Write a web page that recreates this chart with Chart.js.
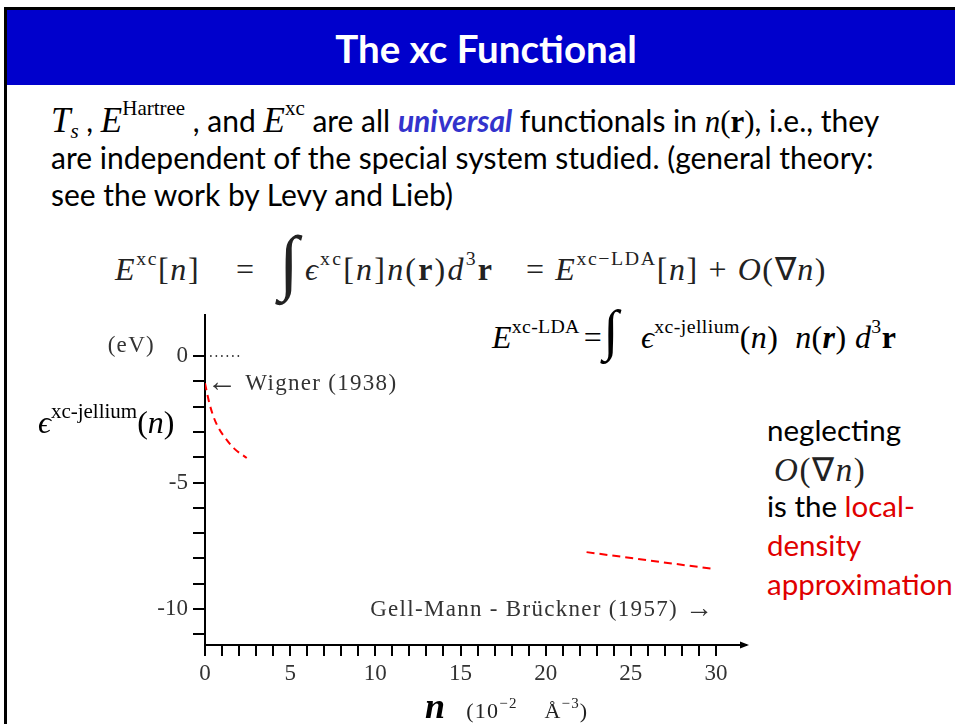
<!DOCTYPE html>
<html>
<head>
<meta charset="utf-8">
<title>The xc Functional</title>
<script src="https://cdn.jsdelivr.net/npm/chart.js@4.4.1/dist/chart.umd.min.js"></script>
<style>
  html, body { margin: 0; padding: 0; background: #fff; }
  #slide { position: relative; width: 955px; height: 724px; overflow: hidden; background: #fff; }
  #frame { position: absolute; left: 4px; top: 7px; width: 980px; height: 740px;
           border-top: 3px solid #000; border-left: 3px solid #000; }
  #banner { position: absolute; left: 7px; top: 10px; width: 948px; height: 75px; background: #0000cc; }
  #title { position: absolute; left: 5px; width: 100%; top: 19px; text-align: center;
           color: #fff; font: bold 38.5px/1 Lato, sans-serif; }
  .txt { position: absolute; white-space: nowrap; font: 30px/1 Lato, sans-serif; color: #000; }
  .txt * { line-height: 0; }
  .side { font-size: 29.5px; }
  .tm { font-family: "Liberation Serif", serif; }
  .math { position: absolute; white-space: nowrap; font: 32px/1 "Liberation Serif", serif; color: #222; }
  .math * { line-height: 0; }
  .cm { letter-spacing: 1.6px; }
  .sup { position: relative; top: -0.75em; font-size: 0.62em; }
  .sub { position: relative; top: 0.3em; font-size: 0.6em; }
  .uni { color: #3333cc; font-weight: bold; font-style: italic; }
  .red { color: #e00000; }
  #xcChart { position: absolute; left: 0; top: 0; }
</style>
</head>
<body>
<div id="slide">
  <div id="frame"></div>
  <div id="banner"><div id="title">The xc Functional</div></div>

  <div class="txt" style="left:51px; top:105px;"><i class="tm" style="font-size:35px">T<span class="sub">s</span></i> , <i class="tm" style="font-size:35px">E</i><span class="tm sup" style="font-size:21px; top:-17px">Hartree</span> , and <i class="tm" style="font-size:35px">E</i><span class="tm sup" style="font-size:21px; top:-17px">xc</span> are all <span class="uni">universal</span> functionals in <span class="tm" style="font-size:31px"><i>n</i>(<b>r</b>)</span>, i.e., they</div>
  <div class="txt" style="left:51px; top:142px;">are independent of the special system studied. (general theory:</div>
  <div class="txt" style="left:51px; top:179px;">see the work by Levy and Lieb)</div>

  <!-- E^xc[n] = ∫ ϵ^xc[n] n(r) d³r = E^xc-LDA[n] + O(∇n) -->
  <div class="math cm" style="left:115px; top:253px;"><i>E</i><span class="sup">xc</span>[<i>n</i>]</div>
  <div class="math" style="left:236px; top:253px;">=</div>
  <div class="math" style="left:279px; top:226px; font-size:72px;">∫</div>
  <div class="math cm" style="left:305px; top:253px; letter-spacing:2.2px;"><i>ϵ</i><span class="sup">xc</span>[<i>n</i>]<i>n</i>(<b>r</b>)<i>d</i><span class="sup">3</span><b>r</b></div>
  <div class="math cm" style="left:526px; top:253px;">= <i>E</i><span class="sup">xc−LDA</span>[<i>n</i>] + <i>O</i>(∇<i>n</i>)</div>

  <!-- E^xc-LDA = ∫ ϵ^xc-jellium(n) n(r) d³r -->
  <div class="math" style="left:492px; top:321px; color:#000; letter-spacing:0.3px;"><i>E</i><span class="sup">xc-LDA</span><span style="margin-left:4px">=</span></div>
  <div class="math" style="left:603px; top:302px; font-size:56px; color:#000;">∫</div>
  <div class="math" style="left:641px; top:321px; color:#000; letter-spacing:0.4px;"><i>ϵ</i><span class="sup">xc-jellium</span>(<i>n</i>)&nbsp; <i>n</i>(<b><i>r</i></b>) <i>d</i><span class="sup">3</span><b>r</b></div>

  <div class="txt side" style="left:767px; top:415px;">neglecting</div>
  <div class="math cm" style="left:774px; top:454px; font-size:33px;"><i>O</i>(∇<i>n</i>)</div>
  <div class="txt side" style="left:767px; top:491px;">is the <span class="red">local-</span></div>
  <div class="txt side red" style="left:767px; top:530px;">density</div>
  <div class="txt side red" style="left:767px; top:569px;">approximation</div>

  <canvas id="xcChart" width="955" height="724"></canvas>
</div>

<script>
// density n in 10^-2 Å^-3, energies in eV
const nTicks = [0, 1, 2, 3, 4, 5, 6, 7, 8, 9, 10, 11, 12, 13, 14, 15, 16, 17, 18, 19, 20, 21, 22, 23, 24, 25, 26, 27, 28, 29, 30];
const nLabels = [0, 5, 10, 15, 20, 25, 30];
const epsTicks = [0, -1, -2, -3, -4, -5, -6, -7, -8, -9, -10, -11];
const epsLabels = [0, -5, -10];

// low-density branch (Wigner)
const wignerN = [0, 0.1, 0.25, 0.5, 0.8, 1.2, 1.7, 2.45];
const wignerEps = [-1.08, -1.4, -1.85, -2.4, -2.85, -3.25, -3.65, -4.03];
// high-density branch (Gell-Mann - Brückner)
const gmbN = [22.4, 29.9];
const gmbEps = [-7.75, -8.42];
// dotted guide at zero
const zeroN = [0.3, 2.2];
const zeroEps = [0, 0];

const serif = '"Liberation Serif", "DejaVu Serif", serif';

function toPoints(xs, ys) {
    return xs.map((x, i) => ({ x: x, y: ys[i] }));
}

// draw a row of text pieces with different fonts / vertical offsets
function drawRuns(ctx, x, y, runs, align) {
    let total = 0;
    runs.forEach(r => { ctx.font = r.font; total += ctx.measureText(r.text).width; });
    let cx = align === 'right' ? x - total : x;
    runs.forEach(r => {
        ctx.font = r.font;
        ctx.fillStyle = r.color || '#222';
        ctx.fillText(r.text, cx, y + (r.dy || 0));
        cx += ctx.measureText(r.text).width;
    });
}

const slideLabels = {
    id: 'slideLabels',
    afterDraw(chart) {
        const ctx = chart.ctx;
        const xs = chart.scales.x;
        const ys = chart.scales.y;
        const area = chart.chartArea;
        ctx.save();
        ctx.textBaseline = 'alphabetic';
        ctx.textAlign = 'left';

        // arrow head on the density axis
        ctx.fillStyle = '#000';
        ctx.beginPath();
        ctx.moveTo(area.right + 3, area.bottom);
        ctx.lineTo(area.right - 6, area.bottom - 3.5);
        ctx.lineTo(area.right - 6, area.bottom + 3.5);
        ctx.closePath();
        ctx.fill();

        if ('letterSpacing' in ctx) ctx.letterSpacing = '1.3px';

        // unit of the energy axis
        drawRuns(ctx, area.left - 50, ys.getPixelForValue(0) - 4,
            [{ text: '(eV)', font: '23px ' + serif, color: '#333' }], 'right');

        // Wigner limit
        drawRuns(ctx, xs.getPixelForValue(wignerN[0]) + 2, ys.getPixelForValue(wignerEps[0]) + 7, [
            { text: '←', font: '30px ' + serif, color: '#333', dy: 1 },
            { text: ' Wigner (1938)', font: '23px ' + serif, color: '#333' }
        ]);

        // Gell-Mann - Brückner limit
        drawRuns(ctx, xs.getPixelForValue(gmbN[1]), ys.getPixelForValue(-10) + 7, [
            { text: 'Gell-Mann - Brückner (1957) ', font: '23px ' + serif, color: '#333' },
            { text: '→', font: '28px ' + serif, color: '#333', dy: 1 }
        ], 'right');

        if ('letterSpacing' in ctx) ctx.letterSpacing = '0px';

        // energy axis title
        const ty = ys.getPixelForValue(-3) + 1;
        drawRuns(ctx, 38, ty, [
            { text: 'ϵ', font: 'italic 32px ' + serif, color: '#000' },
            { text: 'xc-jellium', font: '21px ' + serif, color: '#000', dy: -15 },
            { text: '(', font: '32px ' + serif, color: '#000' },
            { text: 'n', font: 'italic 32px ' + serif, color: '#000' },
            { text: ')', font: '32px ' + serif, color: '#000' }
        ]);

        // density axis title
        if ('letterSpacing' in ctx) ctx.letterSpacing = '1.2px';
        drawRuns(ctx, 425, 718, [
            { text: 'n', font: 'bold italic 36px ' + serif, color: '#000' },
            { text: '   (10', font: '22px ' + serif, color: '#222' },
            { text: '−2', font: '15px ' + serif, color: '#222', dy: -10 },
            { text: '    Å', font: '22px ' + serif, color: '#222' },
            { text: '−3', font: '15px ' + serif, color: '#222', dy: -10 },
            { text: ')', font: '22px ' + serif, color: '#222' }
        ]);
        ctx.restore();
    }
};

const tickFont = { family: serif, size: 23 };

new Chart(document.getElementById('xcChart'), {
    type: 'scatter',
    data: {
        datasets: [
            {
                label: 'Wigner',
                data: toPoints(wignerN, wignerEps),
                showLine: true,
                borderColor: '#ff0000',
                borderWidth: 2,
                borderDash: [7, 5],
                pointRadius: 0,
                cubicInterpolationMode: 'monotone'
            },
            {
                label: 'Gell-Mann - Brückner',
                data: toPoints(gmbN, gmbEps),
                showLine: true,
                borderColor: '#ff0000',
                borderWidth: 2,
                borderDash: [8, 5],
                pointRadius: 0
            },
            {
                label: 'zero',
                data: toPoints(zeroN, zeroEps),
                showLine: true,
                borderColor: '#000',
                borderWidth: 1.5,
                borderDash: [1.5, 4],
                pointRadius: 0
            }
        ]
    },
    options: {
        responsive: false,
        animation: false,
        devicePixelRatio: 1,
        layout: { padding: { left: 145, right: 209, top: 315, bottom: 39 } },
        plugins: {
            legend: { display: false },
            tooltip: { enabled: false }
        },
        scales: {
            x: {
                type: 'linear',
                min: 0,
                max: 31.76,
                afterFit: s => { s.height = 40; },
                afterBuildTicks: s => { s.ticks = nTicks.map(v => ({ value: v })); },
                ticks: {
                    autoSkip: false,
                    maxRotation: 0,
                    padding: 4,
                    color: '#333',
                    font: tickFont,
                    callback: v => nLabels.includes(v) ? String(v) : ''
                },
                grid: { drawOnChartArea: false, tickLength: 11, color: '#000', lineWidth: 2 },
                border: { color: '#000', width: 2 }
            },
            y: {
                type: 'linear',
                min: -11.42,
                max: 1.62,
                afterFit: s => { s.width = 60; },
                afterBuildTicks: s => { s.ticks = epsTicks.map(v => ({ value: v })); },
                ticks: {
                    autoSkip: false,
                    padding: 5,
                    color: '#333',
                    font: tickFont,
                    callback: v => epsLabels.includes(v) ? String(v) : ''
                },
                grid: { drawOnChartArea: false, tickLength: 12, color: '#000', lineWidth: 2 },
                border: { color: '#000', width: 2 }
            }
        }
    },
    plugins: [slideLabels]
});
</script>
</body>
</html>
